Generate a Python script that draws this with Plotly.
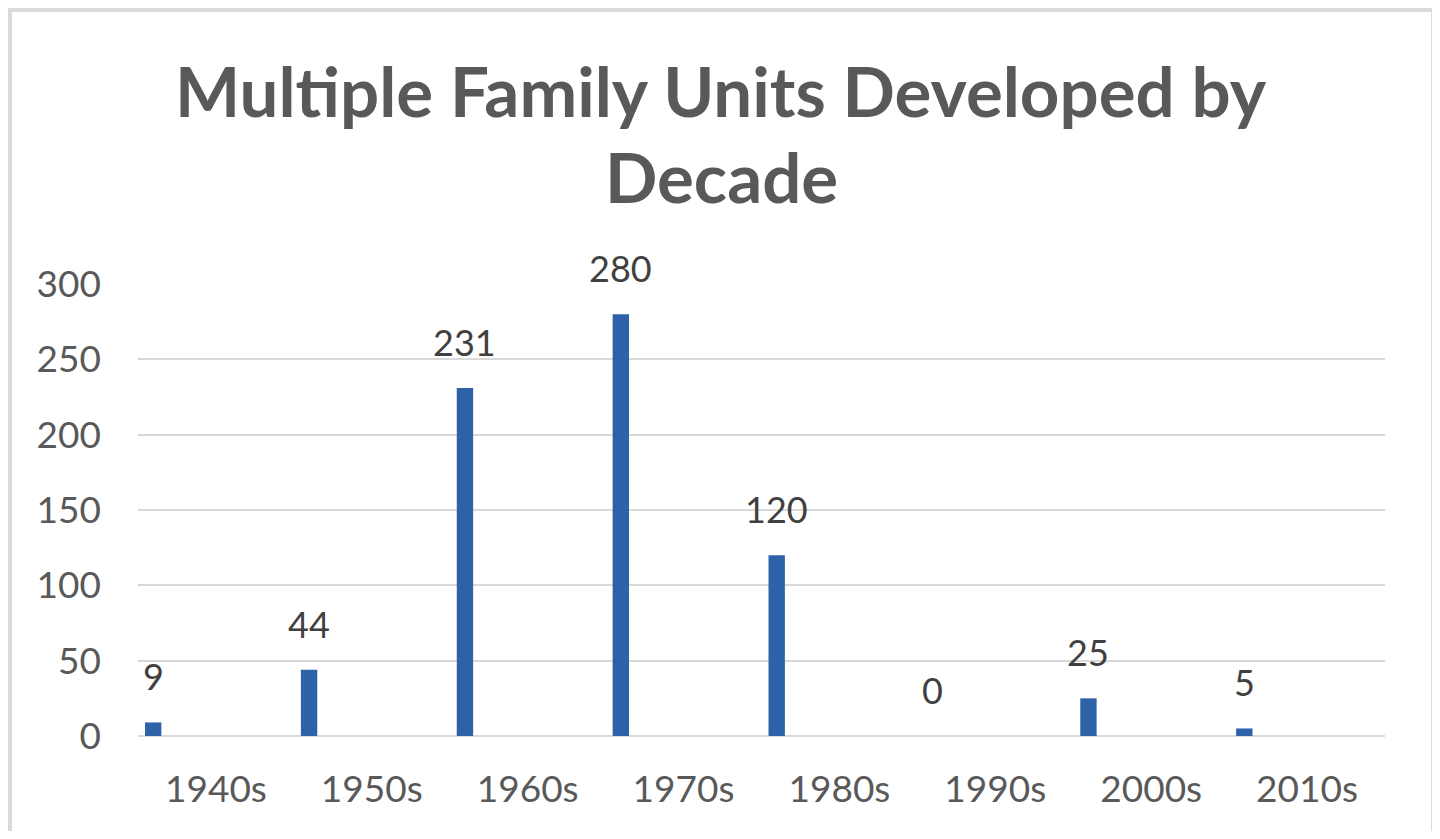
import plotly.graph_objects as go

# data
decades = ["1940s", "1950s", "1960s", "1970s", "1980s", "1990s", "2000s", "2010s"]
units = [9, 44, 231, 280, 120, 0, 25, 5]
y_ticks = [0, 50, 100, 150, 200, 250, 300]

# page body has an 8px margin, so the figure sits 8px in from the window edge
PAGE = 8
W, H = 1440 - 2 * PAGE, 839 - 2 * PAGE
L, T = 138 - PAGE, 284 - PAGE
R = W - (1385 - PAGE)
B = H - (736 - PAGE)
pw, ph = W - L - R, H - T - B

def px_x(x):
    # screen pixel -> paper fraction
    return (x - PAGE - L) / pw

def px_y(y):
    return (H - B - (y - PAGE)) / ph

bar_offset = -0.455
bar_width = 0.105

fig = go.Figure()

fig.add_trace(go.Bar(
    x=decades,
    y=units,
    offset=bar_offset,
    width=bar_width,
    marker=dict(color='#2D62A8', line=dict(width=0)),
    hoverinfo='x+y',
    showlegend=False,
))

# value labels above each bar
for i, v in enumerate(units):
    fig.add_annotation(
        x=i + bar_offset + bar_width / 2,
        y=v,
        text=str(v),
        showarrow=False,
        yanchor='bottom',
        yshift=22,
        font=dict(family='Lato', size=36, color='#404040'),
    )

# title, two lines
for line, ypix in [("Multiple Family Units Developed by", 91), ("Decade", 176)]:
    fig.add_annotation(
        x=px_x(721), y=px_y(ypix), xref='paper', yref='paper',
        text=f"<b>{line}</b>", showarrow=False,
        xanchor='center', yanchor='middle',
        font=dict(family='Lato', size=69, color='#595959'),
    )

# outer chart border
fig.add_shape(
    type='rect', xref='paper', yref='paper',
    x0=px_x(10), x1=px_x(1433), y0=px_y(870), y1=px_y(10),
    line=dict(color='#DADADA', width=4),
    layer='below',
)

fig.update_layout(
    width=W, height=H,
    margin=dict(l=L, r=R, t=T, b=B),
    paper_bgcolor='white',
    plot_bgcolor='white',
    xaxis=dict(
        type='category',
        range=[-0.5, len(decades) - 0.5],
        showgrid=False,
        showline=False,
        ticks='',
        ticklabelstandoff=28,
        tickfont=dict(family='Lato', size=37, color='#595959'),
        fixedrange=True,
    ),
    yaxis=dict(
        range=[0, 300],
        tickvals=y_ticks,
        showgrid=True,
        gridcolor='#D9D9D9',
        gridwidth=2,
        zeroline=True,
        zerolinecolor='#D9D9D9',
        zerolinewidth=2,
        ticks='',
        ticklabelstandoff=36,
        tickfont=dict(family='Lato', size=37, color='#595959'),
        fixedrange=True,
    ),
)

fig.write_html("out.html")
